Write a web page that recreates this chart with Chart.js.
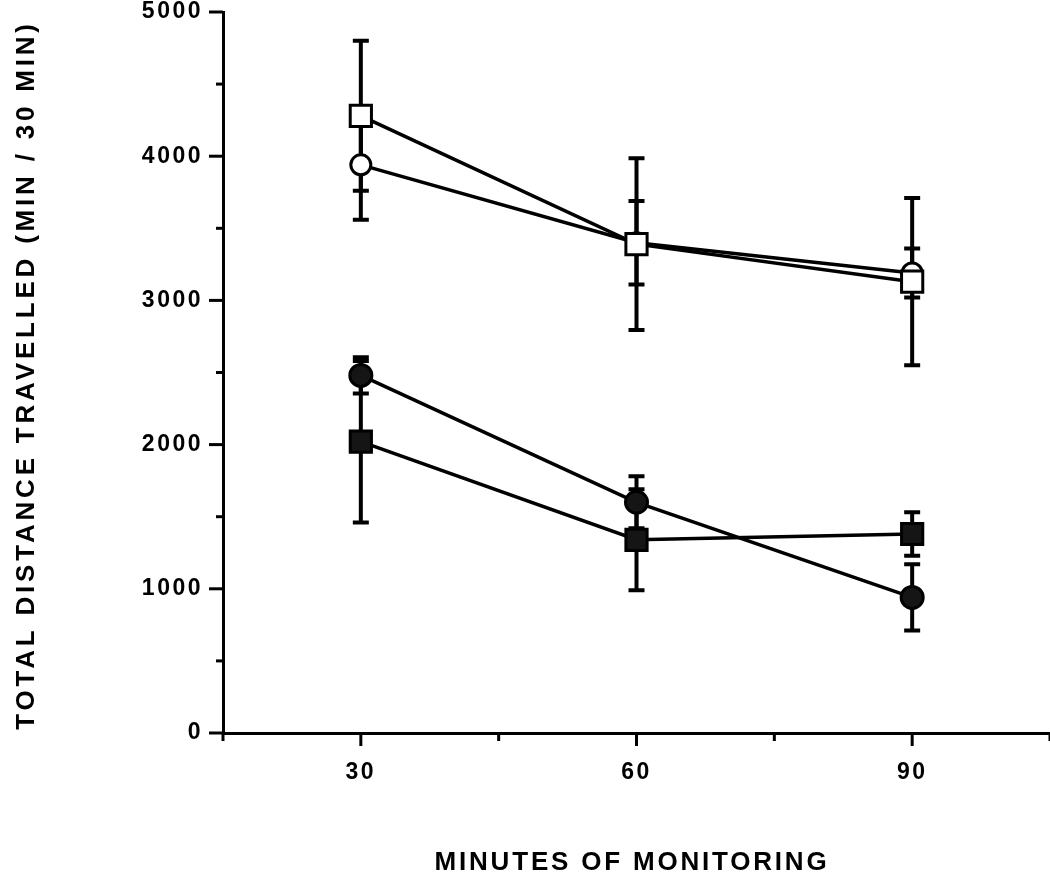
<!DOCTYPE html>
<html>
<head>
<meta charset="utf-8">
<script src="https://cdn.jsdelivr.net/npm/chart.js@4.4.1/dist/chart.umd.min.js"></script>
<style>
  html, body { margin: 0; padding: 0; background: #fff; }
  #wrap { width: 1050px; height: 894px; }
</style>
</head>
<body>
<div id="wrap"><canvas id="distanceChart" width="1050" height="894"></canvas></div>
<script>
// minutes of monitoring (x) and mean distance per 30 min with SE
const minutes = [30, 60, 90];
const openSquare = [4280, 3390, 3130];
const openSquareErr = [520, 595, 580];
const openCircle = [3940, 3400, 3190];
const openCircleErr = [380, 290, 170];
const filledCircle = [2480, 1600, 940];
const filledCircleErr = [125, 180, 230];
const filledSquare = [2020, 1340, 1380];
const filledSquareErr = [560, 350, 150];
const xLabelTicks = [30, 60, 90];
const yLabelTicks = [0, 1000, 2000, 3000, 4000, 5000];

const toPoints = vals => vals.map((v, i) => ({ x: minutes[i], y: v }));

function makeSet(label, vals, errs, style, radius, fill) {
    return {
        label: label,
        data: toPoints(vals),
        errors: errs,
        borderColor: '#000',
        borderWidth: 3.5,
        pointStyle: style,
        pointRadius: radius,
        pointBorderWidth: 3,
        pointBackgroundColor: fill,
        pointBorderColor: '#000',
        fill: false,
        tension: 0
    };
}

const errorBars = {
    id: 'errorBars',
    beforeDatasetsDraw(chart) {
        const ctx = chart.ctx;
        const xs = chart.scales.x, ys = chart.scales.y;
        ctx.save();
        ctx.strokeStyle = '#000';
        ctx.lineWidth = 4;
        chart.data.datasets.forEach(ds => {
            ds.data.forEach((p, i) => {
                const e = ds.errors[i];
                const px = xs.getPixelForValue(p.x);
                const top = ys.getPixelForValue(p.y + e);
                const bot = ys.getPixelForValue(p.y - e);
                ctx.beginPath();
                ctx.moveTo(px, top); ctx.lineTo(px, bot);
                ctx.moveTo(px - 8, top); ctx.lineTo(px + 8, top);
                ctx.moveTo(px - 8, bot); ctx.lineTo(px + 8, bot);
                ctx.stroke();
            });
        });
        ctx.restore();
    }
};

const axisDecor = {
    id: 'axisDecor',
    beforeDraw(chart) {
        chart.ctx.letterSpacing = '2.5px';
    },
    afterDraw(chart) {
        const ctx = chart.ctx;
        const xs = chart.scales.x, ys = chart.scales.y;
        const area = chart.chartArea;
        ctx.save();
        ctx.strokeStyle = '#000';
        ctx.lineWidth = 3;
        for (let v = 0; v <= 5000; v += 500) {
            const py = ys.getPixelForValue(v);
            const len = v % 1000 === 0 ? 14 : 7;
            ctx.beginPath();
            ctx.moveTo(area.left - len, py); ctx.lineTo(area.left, py);
            ctx.stroke();
        }
        for (let v = 15; v <= 105; v += 15) {
            const px = xs.getPixelForValue(v);
            const len = xLabelTicks.includes(v) ? 13 : 8;
            ctx.beginPath();
            ctx.moveTo(px, area.bottom); ctx.lineTo(px, area.bottom + len);
            ctx.stroke();
        }
        // axis titles
        ctx.fillStyle = '#000';
        ctx.textAlign = 'center';
        ctx.textBaseline = 'middle';
        ctx.font = 'bold 26px "Liberation Sans", Arial, sans-serif';
        ctx.letterSpacing = '2.8px';
        ctx.fillText('MINUTES OF MONITORING', 632, 863);
        ctx.translate(27, 375);
        ctx.rotate(-Math.PI / 2);
        ctx.letterSpacing = '3.8px';
        ctx.fillText('TOTAL DISTANCE TRAVELLED (MIN / 30 MIN)', 0, 0);
        ctx.restore();
    }
};

const tickFont = { family: '"Liberation Sans", Arial, sans-serif', size: 23, weight: 'bold' };

const ctx = document.getElementById('distanceChart').getContext('2d');
const myChart = new Chart(ctx, {
    type: 'line',
    data: {
        datasets: [
            makeSet('Open square', openSquare, openSquareErr, 'rect', 15, '#fff'),
            makeSet('Open circle', openCircle, openCircleErr, 'circle', 10, '#fff'),
            makeSet('Filled circle', filledCircle, filledCircleErr, 'circle', 11, '#151515'),
            makeSet('Filled square', filledSquare, filledSquareErr, 'rect', 15, '#151515')
        ]
    },
    options: {
        responsive: false,
        animation: false,
        devicePixelRatio: 1,
        layout: { autoPadding: false, padding: { top: 12, right: 0, left: 0, bottom: 0 } },
        plugins: {
            legend: { display: false },
            tooltip: { enabled: false }
        },
        scales: {
            x: {
                type: 'linear',
                min: 15,
                max: 105,
                afterFit: s => {
                    s.height = 161;
                    s.paddingLeft = 0; s.paddingRight = 0;
                },
                afterBuildTicks: s => { s.ticks = [15, 30, 45, 60, 75, 90, 105].map(v => ({ value: v })); },
                ticks: {
                    color: '#000',
                    padding: 26,
                    maxRotation: 0,
                    autoSkip: false,
                    font: tickFont,
                    callback: v => xLabelTicks.includes(v) ? String(v) : ''
                },
                grid: { display: true, drawOnChartArea: false, drawTicks: false },
                border: { display: true, color: '#000', width: 3 }
            },
            y: {
                min: 0,
                max: 5000,
                afterFit: s => {
                    s.width = 223;
                    s.paddingTop = 0; s.paddingBottom = 0;
                },
                afterBuildTicks: s => { s.ticks = yLabelTicks.map(v => ({ value: v })); },
                ticks: {
                    color: '#000',
                    padding: 20,
                    font: tickFont,
                    callback: v => String(v)
                },
                grid: { display: true, drawOnChartArea: false, drawTicks: false },
                border: { display: true, color: '#000', width: 3 }
            }
        }
    },
    plugins: [errorBars, axisDecor]
});
</script>
</body>
</html>
